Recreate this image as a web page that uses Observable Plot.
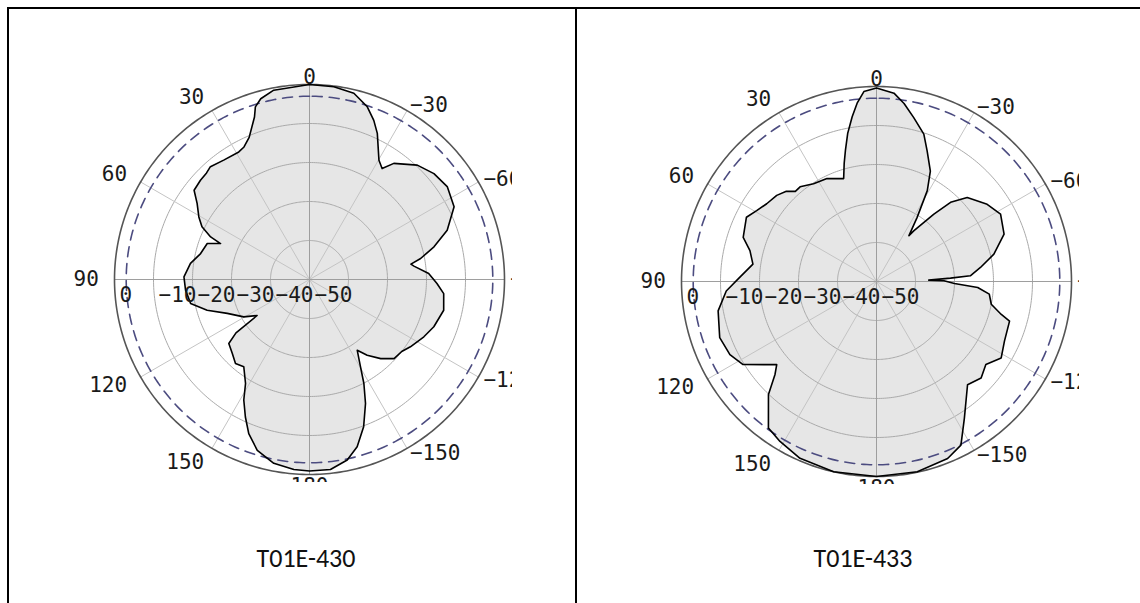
<!DOCTYPE html>
<html><head><meta charset="utf-8">
<script src="https://cdn.jsdelivr.net/npm/d3@7"></script>
<script src="https://cdn.jsdelivr.net/npm/@observablehq/plot@0.6"></script>
<style>
html,body{margin:0;padding:0;background:#fff;}
#page{position:relative;width:1140px;height:603px;overflow:hidden;background:#fff;}
.bline{position:absolute;background:#000;}
.chart{position:absolute;overflow:hidden;}
.cap{position:absolute;font-family:Carlito,Calibri,Lato,sans-serif;font-size:26px;line-height:26px;color:#111;transform:translateX(-50%);white-space:nowrap;}
</style></head><body>
<div id="page">
  <div class="bline" style="left:7px;top:7px;width:1133px;height:2px"></div>
  <div class="bline" style="left:7px;top:7px;width:2px;height:596px"></div>
  <div class="bline" style="left:575px;top:7px;width:2px;height:596px"></div>
</div>
<script>
// ---- data ----
const names = ["T01E-430", "T01E-433"];
const angleTicks = [0, 30, 60, 90, 120, 150, 180, -150, -120, -90, -60, -30];
const radialTicks = [0, -10, -20, -30, -40, -50];
const ringLevels = [-10, -20, -30, -40];
const halfPowerLevel = -3;
const floorDb = -50;

const angles430 = [0,10.7,15.1,17.4,18.7,23,26.3,29,35.7,41.3,44,47.7,52.3,55.9,60.5,63.9,66.7,68,70.6,76.6,82.3,88.8,94.9,101.4,106.7,112.4,119.6,124.5,126,128.4,133.7,138.6,143,148.4,151.4,155,158.5,163,169,175.3,180,-173.7,-168.2,-164.1,-159.8,-155.7,-152.4,-149.7,-146,-142.7,-138,-133.1,-128,-123.7,-116.6,-110.8,-102.9,-96,-91.8,-87.1,-82.7,-81.4,-79.3,-75.3,-70.3,-63.3,-56,-49.6,-43.3,-36,-33.2,-30.2,-24.9,-22,-18.5,-13.4,-7.2];
const gain430 = [0,-0.6,-2,-3.6,-6,-10.4,-12.1,-12.6,-12.3,-11.5,-12,-12.2,-12.6,-15.2,-17.4,-19.3,-22.4,-25.4,-22.2,-21.3,-19.2,-17.8,-18.1,-18.9,-22.6,-27.2,-30.6,-33.7,-26.7,-23.6,-22.6,-21.3,-22,-18.7,-14.8,-11.1,-7.5,-4.2,-2,-1.1,-0.9,-1,-2.7,-5.4,-9.8,-15.1,-19.9,-24.1,-28.1,-25.6,-22.7,-20.3,-20,-18.9,-17.2,-15.9,-14.7,-15.4,-17.3,-19.4,-23,-23.7,-21,-17,-12.5,-8.5,-7.4,-8.1,-9.7,-13.2,-16,-14.6,-8.7,-6,-3.3,-0.9,-0.2];

const angles433 = [0,3.8,6.2,8.4,11,13.3,15.3,17.7,25.7,32.8,38.9,42,45,49.2,54.7,59.4,63.7,71.7,76.3,82,88.3,93.6,100.5,109.7,116.5,121.9,129.8,132.5,136.3,143.6,148.9,156.6,167.3,180,-167.9,-158.1,-152.7,-147.3,-138.6,-132.7,-127.2,-121.5,-115,-106.6,-104.8,-101.2,-96.4,-93.4,-91.5,-89.4,-88.5,-87.4,-86.5,-82.3,-76.9,-69.6,-61.5,-55.1,-47.2,-43.1,-40.4,-36.4,-35.3,-32.4,-29.2,-26,-21.2,-17.8,-12.8,-8.8,-5.3];
const gain433 = [-0.4,-1.2,-4,-7.3,-11.3,-15.4,-18.6,-22.3,-20.7,-20.2,-18.8,-18.9,-17.3,-16.2,-15.5,-14.3,-12.8,-14,-16.6,-18,-14.9,-11.4,-8.7,-7.3,-8,-9.7,-16.7,-14.7,-9.9,-3.3,-2.1,-0.6,0,0,-0.1,-1.1,-2.8,-8.3,-14.7,-13.5,-14.8,-12.5,-13.8,-14.4,-16.9,-20,-20.9,-24,-30,-32.7,-36.6,-31,-25.9,-23.1,-19.1,-15.1,-13.8,-15.4,-18.3,-22.2,-27.3,-33.8,-35.6,-30.6,-23.3,-18.5,-14.1,-10.3,-6.9,-3.8,-1.5];

// ---- drawing ----
const rad = d => d * Math.PI / 180;
const PX = (a, r) => -r * Math.sin(rad(a));
const PY = (a, r) => r * Math.cos(rad(a));
const fmt = v => v < 0 ? "\u2212" + Math.abs(v) : String(v);
const labelFont = "DejaVu Sans Mono";

function drawPolar(angles, gains, cx, cy) {
  const L = 245, T = 220, RR = 203, B = 203, R = 195;
  const maxR = -floorDb;
  const pattern = angles.map((a, i) => ({a, r: gains[i] - floorDb}));
  const circle = lv => d3.range(0, 361, 1).map(a => ({a, r: lv - floorDb, lv}));
  const rings = ringLevels.flatMap(circle);
  const spokeAngles = d3.range(0, 360, 30);
  const xy = {x: d => PX(d.a, d.r), y: d => PY(d.a, d.r)};
  const lab = r => ({x: a => PX(a, r), y: a => PY(a, r), text: fmt,
    fontFamily: labelFont, fontSize: 21, fill: "#1a1a1a"});
  const plot = Plot.plot({
    width: L + RR, height: T + B, margin: 0,
    style: {overflow: "hidden", background: "transparent"},
    x: {type: "linear", domain: [-maxR, maxR], range: [L - R, L + R], axis: null},
    y: {type: "linear", domain: [-maxR, maxR], range: [T + R, T - R], axis: null},
    marks: [
      Plot.line(pattern, {...xy, curve: "linear-closed", fill: "#e6e6e6", stroke: "none"}),
      Plot.line(rings, {...xy, z: "lv", stroke: "#aaaaaa", strokeWidth: 1}),
      Plot.link(spokeAngles.filter(a => a % 90 !== 0), {x1: () => 0, y1: () => 0,
        x2: a => PX(a, maxR), y2: a => PY(a, maxR), stroke: "#c4c4c4", strokeWidth: 1}),
      Plot.link(spokeAngles.filter(a => a % 90 === 0), {x1: () => 0, y1: () => 0,
        x2: a => PX(a, maxR), y2: a => PY(a, maxR), stroke: "#9e9e9e", strokeWidth: 1}),
      Plot.line(circle(0), {...xy, stroke: "#555555", strokeWidth: 1.6}),
      Plot.line(circle(halfPowerLevel), {...xy, stroke: "#4c4c80", strokeWidth: 1.6, strokeDasharray: "10,7"}),
      Plot.line(pattern, {...xy, curve: "linear-closed", fill: "none", stroke: "#000", strokeWidth: 1.6}),
      Plot.text(angleTicks.filter(a => a === 0), {...lab(maxR), textAnchor: "middle", lineAnchor: "bottom", dy: -1}),
      Plot.text(angleTicks.filter(a => a === 180), {...lab(maxR), textAnchor: "middle", lineAnchor: "top", dy: 4}),
      Plot.text(angleTicks.filter(a => a > 0 && a < 180), {...lab(maxR + 4), textAnchor: "end", lineAnchor: "middle"}),
      Plot.text(angleTicks.filter(a => a < 0), {...lab(maxR + 1.5), textAnchor: "start", lineAnchor: "middle"}),
      Plot.text(radialTicks, {x: t => -(t - floorDb), y: () => 0, text: fmt, textAnchor: "start",
        lineAnchor: "middle", dx: 5, dy: 16, fontFamily: labelFont, fontSize: 21, fill: "#1a1a1a"})
    ]
  });
  const box = document.createElement("div");
  box.className = "chart";
  box.style.left = (cx - L) + "px";
  box.style.top = (cy - T) + "px";
  box.style.width = (L + RR) + "px";
  box.style.height = (T + B) + "px";
  box.appendChild(plot);
  document.getElementById("page").appendChild(box);
}

function caption(text, x) {
  const c = document.createElement("div");
  c.className = "cap";
  c.style.left = x + "px";
  c.style.top = "545px";
  c.textContent = text;
  document.getElementById("page").appendChild(c);
}

drawPolar(angles430, gain430, 309, 279);
drawPolar(angles433, gain433, 876, 281);
caption(names[0], 306);
caption(names[1], 863);
</script>
</body></html>
